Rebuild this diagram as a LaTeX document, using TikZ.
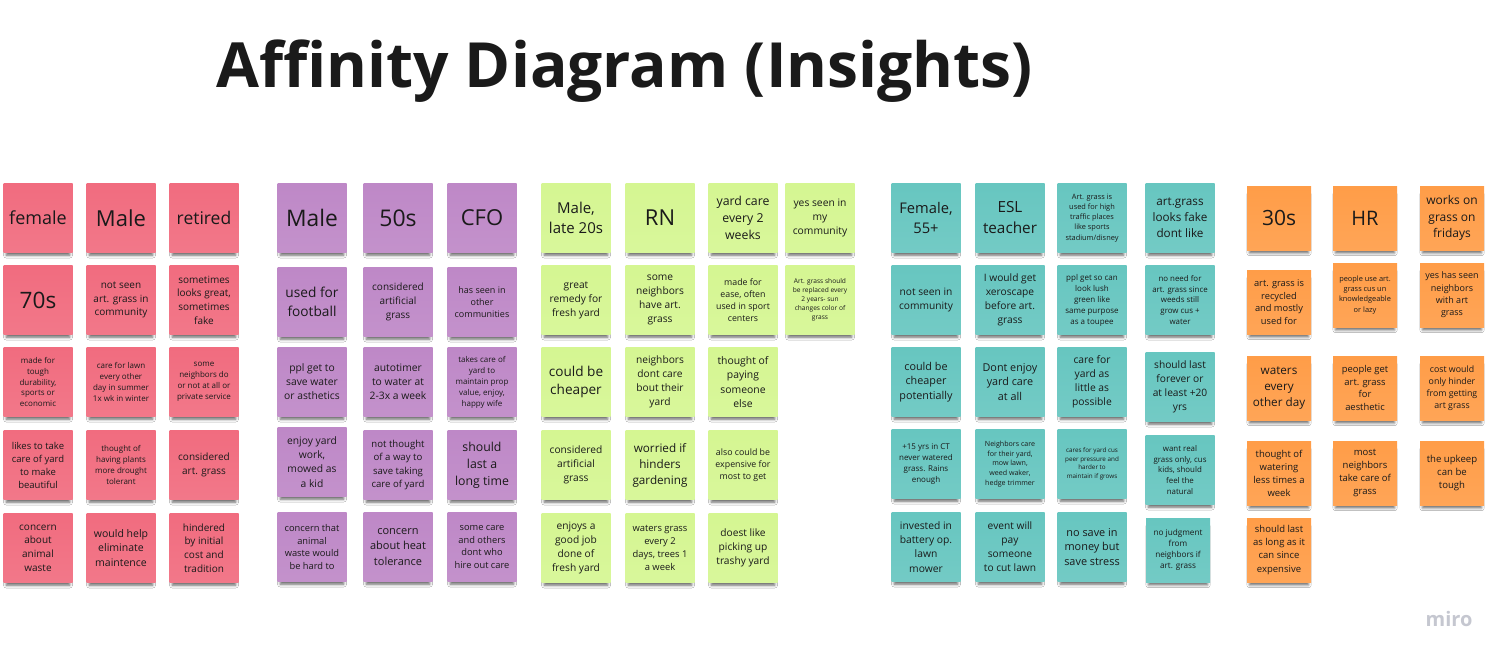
\documentclass[tikz,border=0pt]{standalone}
\usepackage{fontspec}
\setmainfont{Open Sans}
\usetikzlibrary{shadows.blur}

\definecolor{stickyred}{HTML}{F16C7F}
\definecolor{stickyviolet}{HTML}{BE88C7}
\definecolor{stickygreen}{HTML}{D5F692}
\definecolor{stickycyan}{HTML}{67C6C0}
\definecolor{stickyorange}{HTML}{FF9D48}
\definecolor{ink}{HTML}{1A1A1A}
\definecolor{logogray}{HTML}{C5C7D0}

\newcommand\notesize[1]{\fontsize{#1}{\dimexpr #1pt*137/100\relax}\selectfont}

\tikzset{
  note/.style={minimum width=69pt, minimum height=69pt, inner sep=0pt,
    align=center, text=ink, top color=#1, bottom color=#1!92!white,
    blur shadow={shadow xshift=0pt, shadow yshift=-6pt, shadow scale=0.92,
      shadow blur radius=3pt, shadow opacity=60}},
  small note/.style={note=#1, minimum width=64pt, minimum height=64pt},
}

\begin{document}
\begin{tikzpicture}[x=1pt, y=-1pt]
  \fill[white] (0,0) rectangle (1509,662);
  \useasboundingbox (0,0) rectangle (1509,662);

  \node[anchor=base west, text=ink, font=\bfseries\fontsize{62.3}{62}\selectfont, inner sep=0pt]
    (title) at (216,87) {Affinity Diagram (Insights)};

  \node[note=stickyred, font=\notesize{18}] (red11) at (38,218) {female};
  \node[note=stickyred, font=\notesize{22}] (red12) at (121,218) {Male};
  \node[note=stickyred, font=\notesize{17.5}] (red13) at (204,218) {retired};
  \node[note=stickyred, font=\notesize{22.6}] (red21) at (38,300) {70s};
  \node[note=stickyred, font=\notesize{10}] (red22) at (121,300) {not seen\\art. grass in\\community};
  \node[note=stickyred, font=\notesize{10}] (red23) at (204,300) {sometimes\\looks great,\\sometimes\\fake};
  \node[note=stickyred, font=\notesize{8}] (red31) at (38,382) {made for\\tough\\durability,\\sports or\\economic};
  \node[note=stickyred, font=\notesize{8}] (red32) at (121,382) {care for lawn\\every other\\day in summer\\1x wk in winter};
  \node[note=stickyred, font=\notesize{8}] (red33) at (204,382) {some\\neighbors do\\or not at all or\\private service};
  \node[note=stickyred, font=\notesize{9.5}] (red41) at (38,465) {likes to take\\care of yard\\to make\\beautiful};
  \node[note=stickyred, font=\notesize{8}] (red42) at (121,465) {thought of\\having plants\\more drought\\tolerant};
  \node[note=stickyred, font=\notesize{10}] (red43) at (204,465) {considered\\art. grass};
  \node[note=stickyred, font=\notesize{10}] (red51) at (38,548) {concern\\about\\animal\\waste};
  \node[note=stickyred, font=\notesize{10.5}] (red52) at (121,548) {would help\\eliminate\\maintence};
  \node[note=stickyred, font=\notesize{10}] (red53) at (204,548) {hindered\\by initial\\cost and\\tradition};

  \node[note=stickyviolet, font=\notesize{22.8}] (vio11) at (312,218) {Male};
  \node[note=stickyviolet, font=\notesize{23}] (vio12) at (398,218) {50s};
  \node[note=stickyviolet, font=\notesize{22}] (vio13) at (482,218) {CFO};
  \node[note=stickyviolet, font=\notesize{13.7}] (vio21) at (312,302) {used for\\football};
  \node[note=stickyviolet, font=\notesize{10}] (vio22) at (398,302) {considered\\artificial\\grass};
  \node[note=stickyviolet, font=\notesize{9}] (vio23) at (482,302) {has seen in\\other\\communities};
  \node[note=stickyviolet, font=\notesize{10.3}] (vio31) at (312,382) {ppl get to\\save water\\or asthetics};
  \node[note=stickyviolet, font=\notesize{10.3}] (vio32) at (398,382) {autotimer\\to water at\\2-3x a week};
  \node[note=stickyviolet, font=\notesize{8}] (vio33) at (482,382) {takes care of\\yard to\\maintain prop\\value, enjoy,\\happy wife};
  \node[note=stickyviolet, font=\notesize{10.3}] (vio41) at (312,462) {enjoy yard\\work,\\mowed as\\a kid};
  \node[note=stickyviolet, font=\notesize{9.6}] (vio42) at (398,465) {not thought\\of a way to\\save taking\\care of yard};
  \node[note=stickyviolet, font=\notesize{12.3}] (vio43) at (482,465) {should\\last a\\long time};
  \node[note=stickyviolet, font=\notesize{9.3}] (vio51) at (312,547) {concern that\\animal\\waste would\\be hard to};
  \node[note=stickyviolet, font=\notesize{11}] (vio52) at (398,547) {concern\\about heat\\tolerance};
  \node[note=stickyviolet, font=\notesize{9.3}] (vio53) at (482,547) {some care\\and others\\dont who\\hire out care};

  \node[note=stickygreen, font=\notesize{15}] (grn11) at (576,218) {Male,\\late 20s};
  \node[note=stickygreen, font=\notesize{22}] (grn12) at (660,218) {RN};
  \node[note=stickygreen, font=\notesize{12.3}] (grn13) at (743,218) {yard care\\every 2\\weeks};
  \node[note=stickygreen, font=\notesize{10.3}] (grn14) at (820,218) {yes seen in\\my\\community};
  \node[note=stickygreen, font=\notesize{10.2}] (grn21) at (576,300) {great\\remedy for\\fresh yard};
  \node[note=stickygreen, font=\notesize{10.2}] (grn22) at (660,300) {some\\neighbors\\have art.\\grass};
  \node[note=stickygreen, font=\notesize{8.8}] (grn23) at (743,300) {made for\\ease, often\\used in sport\\centers};
  \node[note=stickygreen, font=\notesize{6.6}] (grn24) at (820,300) {Art. grass should\\be replaced every\\2 years- sun\\changes color of\\grass};
  \node[note=stickygreen, font=\notesize{13.6}] (grn31) at (576,382) {could be\\cheaper};
  \node[note=stickygreen, font=\notesize{10.2}] (grn32) at (660,382) {neighbors\\dont care\\bout their\\yard};
  \node[note=stickygreen, font=\notesize{10.4}] (grn33) at (743,382) {thought of\\paying\\someone\\else};
  \node[note=stickygreen, font=\notesize{10.2}] (grn41) at (576,465) {considered\\artificial\\grass};
  \node[note=stickygreen, font=\notesize{11.7}] (grn42) at (660,465) {worried if\\hinders\\gardening};
  \node[note=stickygreen, font=\notesize{8.8}] (grn43) at (743,465) {also could be\\expensive for\\most to get};
  \node[note=stickygreen, font=\notesize{10.2}] (grn51) at (576,548) {enjoys a\\good job\\done of\\fresh yard};
  \node[note=stickygreen, font=\notesize{9.4}] (grn52) at (660,548) {waters grass\\every 2\\days, trees 1\\a week};
  \node[note=stickygreen, font=\notesize{10.2}] (grn53) at (743,548) {doest like\\picking up\\trashy yard};

  \node[note=stickycyan, font=\notesize{14.7}] (cyn11) at (926,218) {Female,\\55+};
  \node[note=stickycyan, font=\notesize{15.3}] (cyn12) at (1010,218) {ESL\\teacher};
  \node[note=stickycyan, font=\notesize{7.4}] (cyn13) at (1092,218) {Art. grass is\\used for high\\traffic places\\like sports\\stadium/disney};
  \node[note=stickycyan, font=\notesize{11.7}] (cyn14) at (1180,218) {art.grass\\looks fake\\dont like};
  \node[note=stickycyan, font=\notesize{10.2}] (cyn21) at (926,300) {not seen in\\community};
  \node[note=stickycyan, font=\notesize{10.2}] (cyn22) at (1010,300) {I would get\\xeroscape\\before art.\\grass};
  \node[note=stickycyan, font=\notesize{8}] (cyn23) at (1092,300) {ppl get so can\\look lush\\green like\\same purpose\\as a toupee};
  \node[note=stickycyan, font=\notesize{7.9}] (cyn24) at (1180,300) {no need for\\art. grass since\\weeds still\\grow cus +\\water};
  \node[note=stickycyan, font=\notesize{10.8}] (cyn31) at (926,382) {could be\\cheaper\\potentially};
  \node[note=stickycyan, font=\notesize{10.8}] (cyn32) at (1010,382) {Dont enjoy\\yard care\\at all};
  \node[note=stickycyan, font=\notesize{10.3}] (cyn33) at (1092,382) {care for\\yard as\\little as\\possible};
  \node[note=stickycyan, font=\notesize{10.2}] (cyn34) at (1180,387) {should last\\forever or\\at least +20\\yrs};
  \node[note=stickycyan, font=\notesize{8}] (cyn41) at (926,464) {+15 yrs in CT\\never watered\\grass. Rains\\enough};
  \node[note=stickycyan, font=\notesize{7.1}] (cyn42) at (1010,464) {Neighbors care\\for their yard,\\mow lawn,\\weed waker,\\hedge trimmer};
  \node[note=stickycyan, font=\notesize{6.3}] (cyn43) at (1092,464) {cares for yard cus\\peer pressure and\\harder to\\maintain if grows};
  \node[note=stickycyan, font=\notesize{7.9}] (cyn44) at (1180,470) {want real\\grass only, cus\\kids, should\\feel the\\natural};
  \node[note=stickycyan, font=\notesize{10.3}] (cyn51) at (926,547) {invested in\\battery op.\\lawn\\mower};
  \node[note=stickycyan, font=\notesize{10.2}] (cyn52) at (1010,547) {event will\\pay\\someone\\to cut lawn};
  \node[note=stickycyan, font=\notesize{10.9}] (cyn53) at (1092,547) {no save in\\money but\\save stress};
  \node[small note=stickycyan, font=\notesize{8.2}] (cyn54) at (1178,550) {no judgment\\from\\neighbors if\\art. grass};

  \node[small note=stickyorange, font=\notesize{21}] (org11) at (1279,218) {30s};
  \node[small note=stickyorange, font=\notesize{20}] (org12) at (1365,218) {HR};
  \node[small note=stickyorange, font=\notesize{12}] (org13) at (1452,218) {works on\\grass on\\fridays};
  \node[small note=stickyorange, font=\notesize{9.3}] (org21) at (1279,302) {art. grass is\\recycled\\and mostly\\used for};
  \node[small note=stickyorange, font=\notesize{7.4}] (org22) at (1365,295) {people use art.\\grass cus un\\knowledgeable\\or lazy};
  \node[small note=stickyorange, font=\notesize{9}] (org23) at (1452,295) {yes has seen\\neighbors\\with art\\grass};
  \node[small note=stickyorange, font=\notesize{11.7}] (org31) at (1279,388) {waters\\every\\other day};
  \node[small note=stickyorange, font=\notesize{9.4}] (org32) at (1365,388) {people get\\art. grass\\for\\aesthetic};
  \node[small note=stickyorange, font=\notesize{8.8}] (org33) at (1452,388) {cost would\\only hinder\\from getting\\art grass};
  \node[small note=stickyorange, font=\notesize{9.5}] (org41) at (1279,473) {thought of\\watering\\less times a\\week};
  \node[small note=stickyorange, font=\notesize{9.5}] (org42) at (1365,473) {most\\neighbors\\take care of\\grass};
  \node[small note=stickyorange, font=\notesize{9.6}] (org43) at (1452,473) {the upkeep\\can be\\tough};
  \node[small note=stickyorange, font=\notesize{9.5}] (org51) at (1279,550) {should last\\as long as it\\can since\\expensive};

  \node[text=logogray, font=\bfseries\fontsize{20}{20}\selectfont, inner sep=0pt]
    (logo) at (1449,619) {miro};
\end{tikzpicture}
\end{document}
